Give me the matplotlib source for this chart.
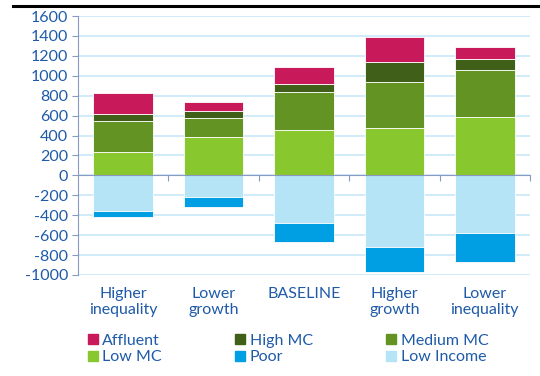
import matplotlib
matplotlib.use("Agg")
import matplotlib.pyplot as plt
import matplotlib.transforms as mtransforms
from matplotlib.patches import Patch
import numpy as np

plt.rcParams['font.family'] = ['Lato', 'DejaVu Sans']

categories = ["Higher\ninequality", "Lower\ngrowth", "BASELINE", "Higher\ngrowth", "Lower\ninequality"]
low_mc = [235, 385, 452, 475, 582]
medium_mc = [310, 187, 381, 459, 475]
high_mc = [75, 71, 84, 207, 108]
affluent = [210, 90, 167, 251, 126]
low_income = [-360, -218, -476, -720, -582]
poor = [-55, -104, -191, -254, -291]
yticks = [-1000, -800, -600, -400, -200, 0, 200, 400, 600, 800, 1000, 1200, 1400, 1600]

c_aff = "#C8195B"
c_high = "#40601A"
c_med = "#639322"
c_low = "#89C72F"
c_poor = "#009FE3"
c_lowinc = "#B6E4F7"
txt = "#1E5AA8"
axcol = "#8A98C4"
gridc = "#C4E7F6"

fig = plt.figure(figsize=(5.4, 3.76), dpi=100)
ax = fig.add_axes([78/540, 1-275/376, (530-78)/540, (275-16)/376])

x = np.arange(len(categories))
w = 0.66
ek = dict(edgecolor="white", linewidth=0.6, zorder=3)
b = np.zeros(len(x))
for vals, col in [(low_mc, c_low), (medium_mc, c_med), (high_mc, c_high), (affluent, c_aff)]:
    ax.bar(x, vals, w, bottom=b, color=col, **ek)
    b = b + np.array(vals)
b = np.zeros(len(x))
for vals, col in [(low_income, c_lowinc), (poor, c_poor)]:
    ax.bar(x, vals, w, bottom=b, color=col, **ek)
    b = b + np.array(vals)

ax.set_xlim(-0.5, len(x) - 0.5)
ax.set_ylim(-1000, 1600)
ax.set_yticks(yticks)
ax.set_yticklabels([str(t) for t in yticks])
ax.yaxis.grid(True, color=gridc, linewidth=1.1, zorder=0)
ax.set_axisbelow(True)

for s in ["top", "right"]:
    ax.spines[s].set_visible(False)
ax.spines["left"].set_color(axcol)
ax.spines["bottom"].set_position(("data", 0))
ax.spines["bottom"].set_color(axcol)
ax.spines["bottom"].set_zorder(4)
ax.set_xticks(np.arange(0.5, len(x), 1.0))
ax.set_xticklabels([])
ax.tick_params(axis="x", length=4, color=axcol, direction="out")
ax.tick_params(axis="y", length=4, color=axcol, labelcolor=txt, labelsize=11.5, pad=3)

trans = mtransforms.blended_transform_factory(ax.transData, ax.transAxes)
for i, c in enumerate(categories):
    ax.text(i, -0.045, c, transform=trans, ha="center", va="top",
            color=txt, fontsize=11.5, linespacing=1.2)

# legend, row-major order: Affluent, High MC, Medium MC / Low MC, Poor, Low Income
handles = [Patch(color=c_aff, label="Affluent"), Patch(color=c_low, label="Low MC"),
           Patch(color=c_high, label="High MC"), Patch(color=c_poor, label="Poor"),
           Patch(color=c_med, label="Medium MC"), Patch(color=c_lowinc, label="Low Income")]
leg = fig.legend(handles=handles, ncol=3, loc="upper left",
                 bbox_to_anchor=(88/540, 1-334/376), frameon=False,
                 fontsize=11.5, handlelength=0.6, handleheight=0.6,
                 handletextpad=0.3, columnspacing=4.6, labelspacing=0.15,
                 borderpad=0, borderaxespad=0)
for t in leg.get_texts():
    t.set_color(txt)

fig.add_artist(plt.Line2D([13/540, 1.0], [1-6/376, 1-6/376], color="black", linewidth=2.2,
                          transform=fig.transFigure))

fig.savefig("out.png", dpi=100)
